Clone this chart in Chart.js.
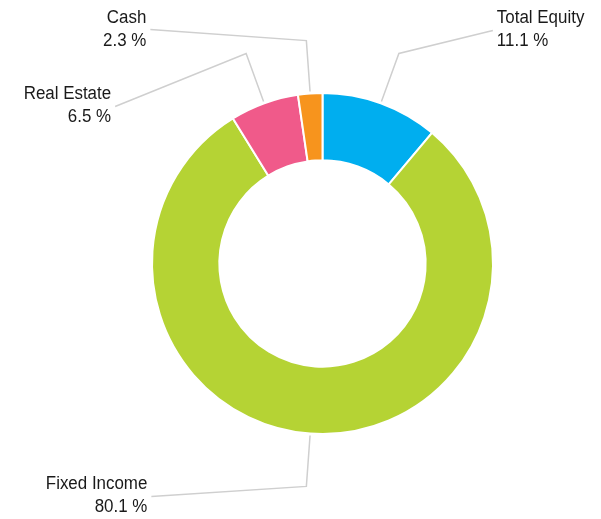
<!DOCTYPE html>
<html>
<head>
<meta charset="utf-8">
<script src="https://cdn.jsdelivr.net/npm/chart.js@4"></script>
<style>
  html, body { margin: 0; padding: 0; background: #fff; }
  #wrap { width: 601px; height: 519px; }
</style>
</head>
<body>
<div id="wrap"><canvas id="myChart" width="601" height="519"></canvas></div>
<script>
const labels = ["Total Equity", "Fixed Income", "Real Estate", "Cash"];
const values = [11.1, 80.1, 6.5, 2.3];
const colors = ["#00AEEF", "#B5D334", "#F05A8A", "#F7941D"];

// where each label sits, measured from the elbow of its leader line
const labelOffsets = [
  { dx: 94, dy: -23, align: "left" },
  { dx: -155, dy: 10, align: "right" },
  { dx: -131, dy: 53, align: "right" },
  { dx: -156, dy: -11, align: "right" },
];

const leaderLabels = {
  id: "leaderLabels",
  afterDatasetsDraw(chart) {
    const ctx = chart.ctx;
    const meta = chart.getDatasetMeta(0);
    meta.data.forEach((arc, i) => {
      const { x, y, startAngle, endAngle, outerRadius } = arc.getProps(
        ["x", "y", "startAngle", "endAngle", "outerRadius"], true);
      const mid = (startAngle + endAngle) / 2;
      const r0 = outerRadius + 2;
      const r1 = outerRadius + 53;
      const sx = x + Math.cos(mid) * r0, sy = y + Math.sin(mid) * r0;
      const ex = x + Math.cos(mid) * r1, ey = y + Math.sin(mid) * r1;
      const off = labelOffsets[i];
      const lx = ex + off.dx, ly = ey + off.dy;

      ctx.save();
      ctx.strokeStyle = "#cfcfcf";
      ctx.lineWidth = 1.5;
      ctx.beginPath();
      ctx.moveTo(sx, sy);
      ctx.lineTo(ex, ey);
      ctx.lineTo(lx, ly);
      ctx.stroke();

      // text is a bit narrow in the original, squeeze it slightly
      const tx = off.align === "left" ? lx + 4 : lx - 4;
      ctx.translate(tx, ly);
      ctx.scale(0.94, 1);
      ctx.font = "18px 'Liberation Sans', Arial, sans-serif";
      ctx.textBaseline = "middle";
      ctx.textAlign = off.align;
      ctx.fillStyle = "#1a1a1a";
      ctx.fillText(labels[i], 0, -12);
      ctx.fillText(values[i].toFixed(1) + " %", 0, 11);
      ctx.restore();
    });
  },
};

const ctx = document.getElementById("myChart").getContext("2d");

new Chart(ctx, {
  type: "doughnut",
  data: {
    labels: labels,
    datasets: [
      {
        data: values,
        backgroundColor: colors,
        borderColor: "#ffffff",
        borderWidth: 2,
      },
    ],
  },
  options: {
    responsive: false,
    animation: false,
    cutout: "60.5%",
    layout: {
      padding: { left: 151, right: 107, top: 92, bottom: 84 },
    },
    plugins: {
      legend: { display: false },
      tooltip: { enabled: false },
    },
  },
  plugins: [leaderLabels],
});
</script>
</body>
</html>
